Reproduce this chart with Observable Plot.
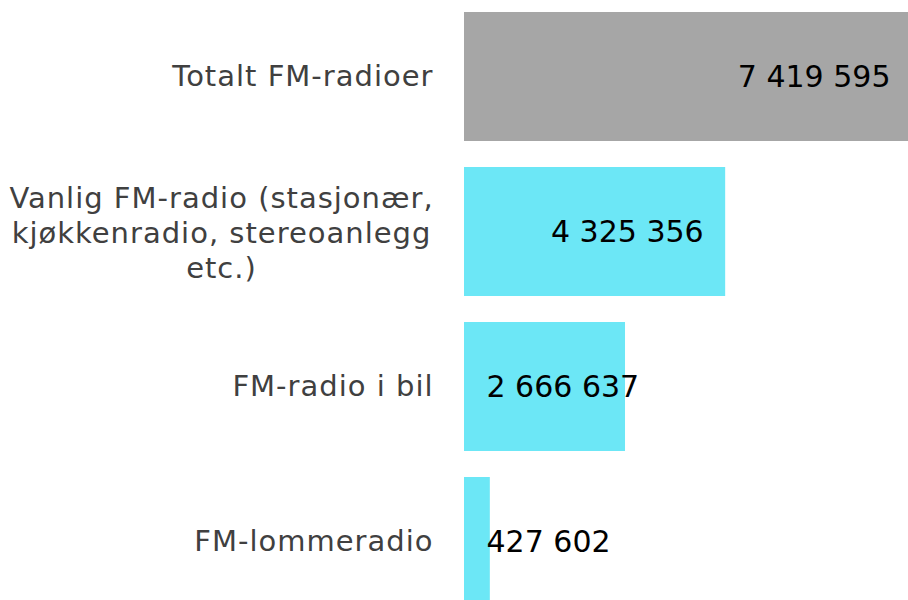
<!DOCTYPE html>
<html>
<head>
<meta charset="utf-8">
<script src="https://cdn.jsdelivr.net/npm/d3@7"></script>
<script src="https://cdn.jsdelivr.net/npm/@observablehq/plot@0.6"></script>
<style>
  html, body { margin: 0; padding: 0; background: #fff; overflow: hidden; }
  #chart svg { display: block; }
  #chart .cat text { letter-spacing: 1px; }
</style>
</head>
<body>
<div id="chart"></div>
<script>
// Data
const categories = [
  "Totalt FM-radioer",
  "Vanlig FM-radio (stasjonær,\nkjøkkenradio, stereoanlegg\netc.)",
  "FM-radio i bil",
  "FM-lommeradio"
];
const values = [7419595, 4325356, 2666637, 427602];
const groups = ["total", "part", "part", "part"];

const data = categories.map((c, i) => ({name: c, value: values[i], group: groups[i], multi: c.includes("\n")}));
const maxV = d3.max(values);
const fmt = d3.formatLocale({decimal: ",", thousands: " ", grouping: [3], currency: ["", ""]}).format(",d");

const chart = Plot.plot({
  width: 908,
  height: 600,
  marginLeft: 464,
  marginRight: 0,
  marginTop: 0,
  marginBottom: 0,
  style: {fontFamily: "'DejaVu Sans', Verdana, sans-serif", background: "#fff"},
  x: {domain: [0, maxV], range: [464, 912], axis: null},
  y: {domain: categories, range: [-1, 619], paddingInner: 0.17, paddingOuter: 0.085, axis: null},
  color: {domain: ["total", "part"], range: ["#a6a6a6", "#6ce7f6"]},
  marks: [
    Plot.barX(data, {x: "value", y: "name", fill: "group"}),
    // category labels, single-line right aligned
    Plot.text(data.filter(d => !d.multi), {
      y: "name", text: "name", frameAnchor: "left", textAnchor: "end", dx: -31,
      fontSize: 29, fill: "#404040", className: "cat"
    }),
    // multi-line label centred as a block
    Plot.text(data.filter(d => d.multi), {
      y: "name", text: "name", frameAnchor: "left", textAnchor: "middle", dx: -243,
      fontSize: 29, lineHeight: 1.2, fill: "#404040", className: "cat"
    }),
    // value labels inside end of bar when they fit
    Plot.text(data.filter(d => d.value / maxV > 0.45), {
      x: "value", y: "name", text: d => fmt(d.value), textAnchor: "end", dx: -22,
      fontSize: 30, fill: "#000"
    }),
    // value labels from axis when they don't fit
    Plot.text(data.filter(d => d.value / maxV <= 0.45), {
      x: 0, y: "name", text: d => fmt(d.value), textAnchor: "start", dx: 22,
      fontSize: 30, fill: "#000"
    })
  ]
});
document.getElementById("chart").appendChild(chart);
</script>
</body>
</html>
